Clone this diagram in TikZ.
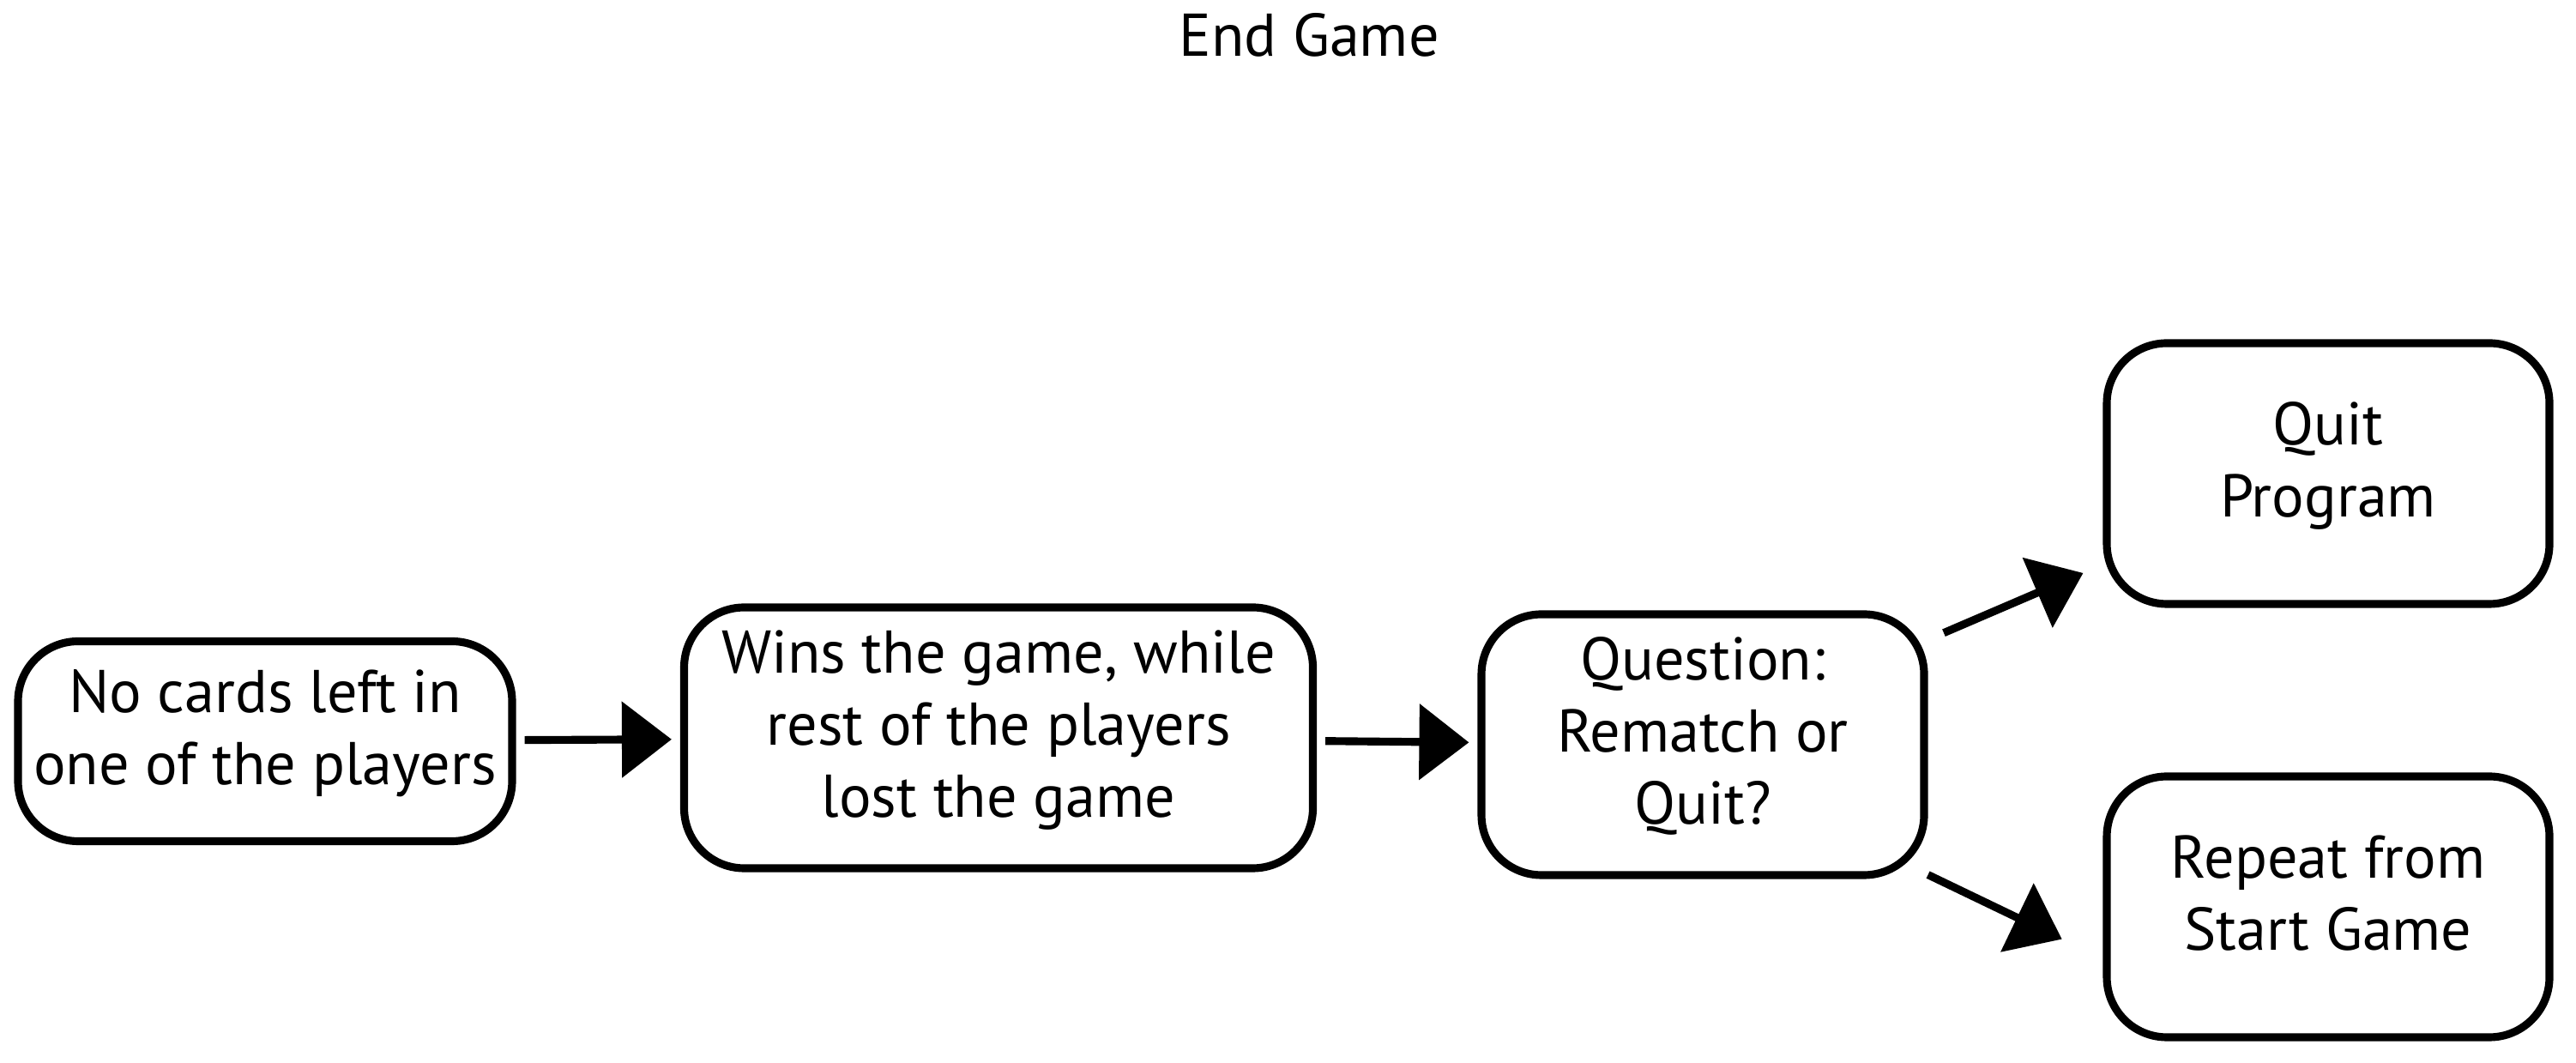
\documentclass[tikz,border=0pt]{standalone}
\usepackage{fontspec}
\setmainfont{PT Sans}
\usetikzlibrary{arrows.meta}

\begin{document}
\begin{tikzpicture}[>={Triangle[length=5.8mm,width=8.7mm]},line width=2.6pt,
	etape/.style={draw,rounded corners=7mm,align=center,inner sep=0pt,text depth=0.33cm,
		font=\fontsize{20}{24}\selectfont},
	fleche/.style={->,shorten <=1mm,shorten >=1mm}]
	\def\boxh{3.04}
	\def\boxw{5.16}

	\useasboundingbox (0,0) rectangle (30.03,12.39);

	% titre
	\node[anchor=base,font=\fontsize{20}{24}\selectfont] (titre) at (15.26,11.73) {End Game};

	% etapes
	\node[etape,minimum width=5.76cm,minimum height=2.33cm] (vide) at (3.09,3.75) {No cards left in\\one of the players};
	\node[etape,minimum width=7.33cm,minimum height=\boxh cm] (gagne) at (11.64,3.79) {Wins the game, while\\rest of the players\\lost the game};
	\node[etape,minimum width=\boxw cm,minimum height=\boxh cm] (question) at (19.85,3.71) {Question:\\Rematch or\\Quit?};
	\node[etape,minimum width=\boxw cm,minimum height=\boxh cm] (quitter) at (27.14,6.87) {Quit\\Program};
	\node[etape,minimum width=\boxw cm,minimum height=\boxh cm] (rejouer) at (27.14,1.82) {Repeat from\\Start Game};

	% fleches
	\draw[fleche] (vide) -- (gagne);
	\draw[fleche] (gagne) -- (question);
	\draw[fleche,shorten <=2mm,shorten >=2.5mm] (question.25) -- (quitter.202);
	\draw[fleche,shorten <=0mm,shorten >=5.3mm] (question.-30) -- (rejouer.193);

\end{tikzpicture}
\end{document}
